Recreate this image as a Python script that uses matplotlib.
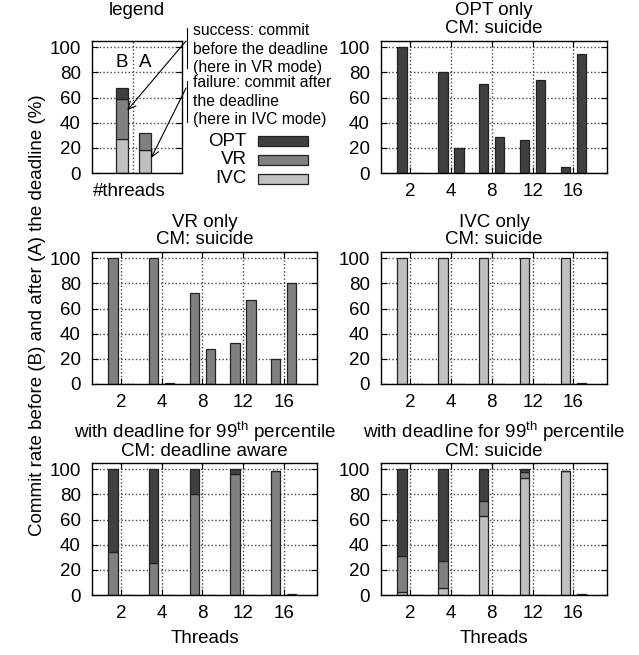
import matplotlib
matplotlib.use('Agg')
import matplotlib.pyplot as plt
from matplotlib.lines import Line2D
from matplotlib.patches import Rectangle
import numpy as np

plt.rcParams['font.family'] = ['Liberation Sans', 'DejaVu Sans']
plt.rcParams['mathtext.fontset'] = 'custom'
plt.rcParams['mathtext.rm'] = 'Liberation Sans'
plt.rcParams['mathtext.it'] = 'Liberation Sans:italic'
plt.rcParams['font.size'] = 13.5

# Gegevens
threads = ['2', '4', '8', '12', '16']
colors = {'OPT': '#404040', 'VR': '#808080', 'IVC': '#c0c0c0'}

# legend example bar: B = before deadline, A = after deadline
legend_before = {'IVC': 27, 'VR': 32, 'OPT': 9}
legend_after = {'IVC': 18, 'VR': 14, 'OPT': 0}

# OPT only / VR only / IVC only, CM: suicide
opt_before = [100, 80, 71, 26, 5]
opt_after = [0, 20, 29, 74, 95]
vr_before = [100, 100, 72, 33, 20]
vr_after = [0, 1, 28, 67, 80]
ivc_before = [100, 100, 100, 100, 100]
ivc_after = [0, 0, 0, 0, 0.5]

# deadline for 99th percentile, CM: deadline aware
da_before_ivc = [0, 0, 0, 0, 0]
da_before_vr = [34, 25.5, 80, 96.5, 99]
da_before_opt = [66, 74.5, 20, 3.5, 0]
da_after_opt = [0, 0, 0.3, 0.3, 1]

# deadline for 99th percentile, CM: suicide
su_before_ivc = [2, 5.5, 63, 93, 99]
su_before_vr = [29, 21.5, 12, 4.5, 0]
su_before_opt = [69, 73, 25, 2.5, 0]
su_after_opt = [0, 0, 0.3, 0.3, 1]

W, H = 639, 655
fig = plt.figure(figsize=(W / 100, H / 100), dpi=100)


def fx(px):
    return px / W


def fy(py):
    return 1 - py / H


def make_ax(x0, y0, x1, y1):
    return fig.add_axes([fx(x0), fy(y1), (x1 - x0) / W, (y1 - y0) / H])


def style(ax):
    ax.set_ylim(0, 105)
    ax.set_yticks([0, 20, 40, 60, 80, 100])
    ax.grid(True, color='#444444', linestyle=(0, (1, 1.6)), linewidth=1.0)
    ax.set_axisbelow(True)
    ax.tick_params(axis='y', direction='in', length=4, width=0.8, right=True, pad=8)
    ax.tick_params(axis='x', direction='in', length=4, width=0.8, top=True, pad=7)
    for s in ax.spines.values():
        s.set_linewidth(1.0)


def stacked(ax, x, layers, width):
    bottom = np.zeros(len(x))
    for mode, vals in layers:
        vals = np.asarray(vals, dtype=float)
        ax.bar(x, vals, width, bottom=bottom, color=colors[mode],
               edgecolor='#222222', linewidth=0.9)
        bottom += vals


def titles(ax, line1, line2, d1, d2=5.5):
    ax.annotate(line1, (0.5, 1), xycoords='axes fraction', xytext=(0, d1),
                textcoords='offset points', ha='center', va='baseline')
    ax.annotate(line2, (0.5, 1), xycoords='axes fraction', xytext=(0, d2),
                textcoords='offset points', ha='center', va='baseline')


pos = np.arange(len(threads))
bw = 0.23
off = 0.195


def panel(ax, before, after):
    style(ax)
    stacked(ax, pos - off, before, bw)
    stacked(ax, pos + off, after, bw)
    ax.set_xlim(-0.71, 4.82)
    ax.set_xticks(pos)
    ax.set_xticklabels(threads)


# legend panel
axl = make_ax(92, 41, 182, 173)
style(axl)
order = ['IVC', 'VR', 'OPT']
stacked(axl, [-0.5], [(m, [legend_before[m]]) for m in order if legend_before[m] > 0], 0.51)
stacked(axl, [0.5], [(m, [legend_after[m]]) for m in order if legend_after[m] > 0], 0.51)
axl.set_xlim(-1.77, 2.09)
axl.set_xticks([0])
axl.set_xticklabels([''])
axl.tick_params(axis='x', length=0)
axl.text(-0.5, 88, 'B', ha='center', va='center')
axl.text(0.5, 88, 'A', ha='center', va='center')
axl.annotate('legend', (0.5, 1), xycoords='axes fraction', xytext=(0, 19),
             textcoords='offset points', ha='center', va='baseline')
fig.text(fx(129), fy(183), '#threads', ha='center', va='top')

# annotations on the legend panel
fig.text(fx(193), fy(23), 'success: commit\nbefore the deadline\n(here in VR mode)',
         fontsize=11.3, ha='left', va='top', linespacing=1.3)
fig.text(fx(193), fy(75), 'failure: commit after\nthe deadline\n(here in IVC mode)',
         fontsize=11.3, ha='left', va='top', linespacing=1.3)
fig.add_artist(Line2D([fx(187), fx(187)], [fy(28), fy(68)], color='black', lw=0.8))
fig.add_artist(Line2D([fx(187), fx(187)], [fy(81), fy(122)], color='black', lw=0.8))
axl.annotate('', xy=(-0.25, 50), xycoords='data', xytext=(fx(186), fy(41)),
             textcoords='figure fraction',
             arrowprops=dict(arrowstyle='->', lw=0.8, color='black',
                             shrinkA=0, shrinkB=0))
axl.annotate('', xy=(0.77, 12), xycoords='data', xytext=(fx(186), fy(88)),
             textcoords='figure fraction',
             arrowprops=dict(arrowstyle='->', lw=0.8, color='black',
                             shrinkA=0, shrinkB=0))

# legend swatches
for i, m in enumerate(['OPT', 'VR', 'IVC']):
    y0 = 136 + i * 19
    fig.add_artist(Rectangle((fx(258), fy(y0 + 10)), 50 / W, 10 / H,
                             transform=fig.transFigure, facecolor=colors[m],
                             edgecolor='#222222', linewidth=0.9))
    fig.text(fx(247), fy(y0 + 5), m, ha='right', va='center')

# OPT only
ax1 = make_ax(381, 41, 607, 173)
panel(ax1, [('OPT', opt_before)], [('OPT', opt_after)])
titles(ax1, 'OPT only', 'CM: suicide', 18.5)

# VR only
ax2 = make_ax(92, 252, 317, 384)
panel(ax2, [('VR', vr_before)], [('VR', vr_after)])
titles(ax2, 'VR only', 'CM: suicide', 18)

# IVC only
ax3 = make_ax(381, 252, 607, 384)
panel(ax3, [('IVC', ivc_before)], [('IVC', ivc_after)])
titles(ax3, 'IVC only', 'CM: suicide', 18)

# deadline aware
ax4 = make_ax(92, 463, 317, 595)
panel(ax4, [('IVC', da_before_ivc), ('VR', da_before_vr), ('OPT', da_before_opt)],
      [('OPT', da_after_opt)])
titles(ax4, 'with deadline for 99$^{\\rm th}$ percentile', 'CM: deadline aware', 18, 5)
ax4.set_xlabel('Threads', labelpad=6)

# suicide
ax5 = make_ax(381, 463, 607, 595)
panel(ax5, [('IVC', su_before_ivc), ('VR', su_before_vr), ('OPT', su_before_opt)],
      [('OPT', su_after_opt)])
titles(ax5, 'with deadline for 99$^{\\rm th}$ percentile', 'CM: suicide', 18, 5)
ax5.set_xlabel('Threads', labelpad=6)

fig.text(fx(38), fy(315), 'Commit rate before (B) and after (A) the deadline (%)',
         rotation=90, ha='center', va='center')

fig.savefig('out.png', dpi=100)
